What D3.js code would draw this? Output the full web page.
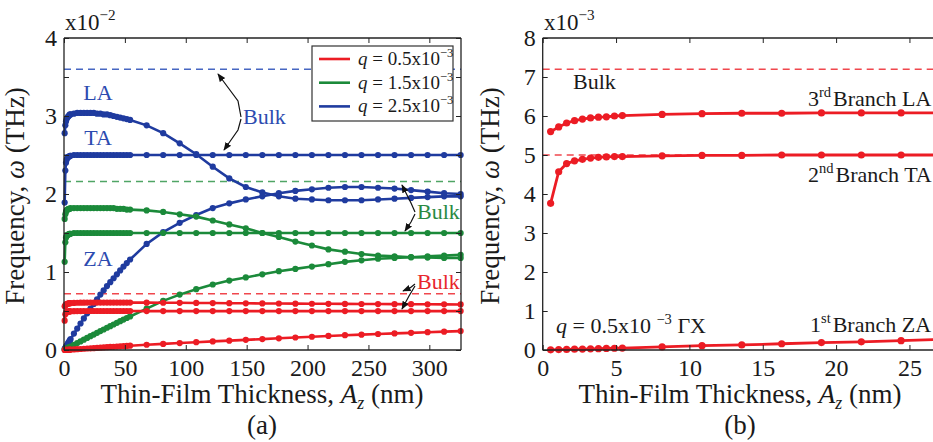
<!DOCTYPE html>
<html>
<head>
<meta charset="utf-8">
<script src="https://cdn.jsdelivr.net/npm/d3@7"></script>
<style>
  body { margin: 0; background: #fff; }
  svg text { font-family: "Liberation Serif", "Times New Roman", serif; fill: #1a1a1a; }
</style>
</head>
<body>
<svg id="chart" width="933" height="442"></svg>
<script>
// thin-film thickness A_z (nm) of every computed point
const thickness = [0.54, 1.09, 1.63, 2.17, 2.71, 3.26, 3.80, 4.34, 4.89, 5.43,
  8.14, 10.86, 13.57, 16.29, 19.00, 21.72, 24.43, 27.14, 29.86, 32.57, 35.29, 38.00,
  40.71, 43.43, 46.14, 48.86, 51.57, 54.29,
  67.86, 81.43, 95.00, 108.57, 122.14, 135.71, 149.29, 162.86, 176.43, 190.00,
  203.57, 217.14, 230.71, 244.29, 257.86, 271.43, 285.00, 298.57, 312.14, 325.71]

// q = 2.5e-3, frequency in 1e-2 THz
const blueLA = [2.78, 2.88, 2.93, 2.96, 2.98, 2.99, 3.00, 3.01, 3.02, 3.02,
  3.03, 3.04, 3.04, 3.04, 3.04, 3.04, 3.04, 3.03, 3.03, 3.02, 3.02, 3.01, 3.00, 2.99, 2.98, 2.97, 2.96, 2.95,
  2.88, 2.78, 2.65, 2.51, 2.35, 2.20, 2.09, 2.02, 1.97, 1.94, 1.93, 1.92, 1.92, 1.92, 1.93, 1.94, 1.95, 1.96, 1.97, 1.97]
const blueTA = [1.89, 2.30, 2.40, 2.44, 2.46, 2.47, 2.48, 2.48, 2.49, 2.49,
  2.50, 2.50, 2.50, 2.50, 2.50, 2.50, 2.50, 2.50, 2.50, 2.50, 2.50, 2.50, 2.50, 2.50, 2.50, 2.50, 2.50, 2.50,
  2.50, 2.50, 2.50, 2.50, 2.50, 2.50, 2.50, 2.50, 2.50, 2.50, 2.50, 2.50, 2.50, 2.50, 2.50, 2.50, 2.50, 2.50, 2.50, 2.50]
const blueZA = [0.014, 0.028, 0.042, 0.056, 0.070, 0.084, 0.098, 0.112, 0.126, 0.140,
  0.21, 0.275, 0.34, 0.405, 0.47, 0.53, 0.59, 0.65, 0.71, 0.765, 0.82, 0.87, 0.92, 0.97, 1.02, 1.07, 1.115, 1.16,
  1.36, 1.51, 1.63, 1.73, 1.82, 1.88, 1.93, 1.97, 2.01, 2.04, 2.06, 2.08, 2.09, 2.09, 2.08, 2.07, 2.05, 2.03, 2.01, 2.00]

// q = 1.5e-3, frequency in 1e-2 THz
const greenLA = [1.68, 1.74, 1.77, 1.79, 1.80, 1.80, 1.81, 1.81, 1.81, 1.82,
  1.82, 1.82, 1.82, 1.82, 1.82, 1.82, 1.82, 1.82, 1.82, 1.82, 1.82, 1.82, 1.82, 1.81, 1.81, 1.81, 1.80, 1.80,
  1.79, 1.77, 1.74, 1.71, 1.66, 1.61, 1.56, 1.50, 1.45, 1.39, 1.34, 1.29, 1.26, 1.23, 1.21, 1.20, 1.19, 1.185, 1.18, 1.18]
const greenTA = [1.13, 1.38, 1.44, 1.46, 1.47, 1.48, 1.48, 1.49, 1.49, 1.49,
  1.50, 1.50, 1.50, 1.50, 1.50, 1.50, 1.50, 1.50, 1.50, 1.50, 1.50, 1.50, 1.50, 1.50, 1.50, 1.50, 1.50, 1.50,
  1.50, 1.50, 1.50, 1.50, 1.50, 1.50, 1.50, 1.50, 1.50, 1.50, 1.50, 1.50, 1.50, 1.50, 1.50, 1.50, 1.50, 1.50, 1.50, 1.50]
const greenZA = [0.0045, 0.009, 0.013, 0.018, 0.022, 0.027, 0.031, 0.036, 0.040, 0.045,
  0.067, 0.089, 0.11, 0.133, 0.155, 0.177, 0.198, 0.22, 0.242, 0.263, 0.285, 0.306, 0.327, 0.348, 0.369, 0.39, 0.41, 0.43,
  0.53, 0.63, 0.71, 0.78, 0.84, 0.89, 0.93, 0.97, 1.01, 1.04, 1.07, 1.10, 1.13, 1.15, 1.17, 1.18, 1.19, 1.20, 1.21, 1.22]

// q = 0.5e-3, frequency in 1e-3 THz (panel b units)
const redLA = [5.60, 5.72, 5.82, 5.88, 5.92, 5.95, 5.97, 5.98, 6.00, 6.01,
  6.04, 6.06, 6.07, 6.07, 6.08, 6.08, 6.08, 6.08, 6.08, 6.08, 6.08, 6.08, 6.08, 6.08, 6.08, 6.08, 6.08, 6.08,
  6.07, 6.06, 6.05, 6.03, 6.02, 6.00, 5.99, 5.97, 5.96, 5.94, 5.93, 5.92, 5.91, 5.90, 5.89, 5.88, 5.87, 5.86, 5.85, 5.84]
const redTA = [3.76, 4.57, 4.78, 4.85, 4.89, 4.92, 4.94, 4.95, 4.96, 4.96,
  4.98, 4.99, 4.99, 5.00, 5.00, 5.00, 5.00, 5.00, 5.00, 5.00, 5.00, 5.00, 5.00, 5.00, 5.00, 5.00, 5.00, 5.00,
  4.99, 4.99, 4.99, 4.99, 4.99, 4.99, 4.99, 4.99, 4.99, 4.99, 4.99, 4.99, 4.99, 4.99, 4.99, 4.99, 4.99, 4.99, 4.99, 4.99]
const redZA = [0.005, 0.010, 0.015, 0.020, 0.025, 0.030, 0.035, 0.040, 0.045, 0.050,
  0.08, 0.11, 0.13, 0.16, 0.19, 0.21, 0.24, 0.27, 0.30, 0.33, 0.36, 0.39, 0.41, 0.44, 0.47, 0.50, 0.52, 0.55,
  0.67, 0.78, 0.89, 1.00, 1.10, 1.20, 1.30, 1.40, 1.50, 1.60, 1.70, 1.80, 1.90, 1.97, 2.05, 2.13, 2.20, 2.28, 2.35, 2.42]

// bulk frequencies [LA, TA]
const bulkBlue = [3.60, 2.50]    // 1e-2 THz
const bulkGreen = [2.16, 1.50]   // 1e-2 THz
const bulkRed = [7.20, 5.00]     // 1e-3 THz

const xTicksA = [0, 50, 100, 150, 200, 250, 300]
const yTicksA = [0, 0.5, 1, 1.5, 2, 2.5, 3, 3.5, 4]
const xTicksB = [0, 5, 10, 15, 20, 25]
const yTicksB = [0, 1, 2, 3, 4, 5, 6, 7, 8]

const RED = '#ec1c24', GREEN = '#1b8a3a', BLUE = '#1f3b9f'
const RED_D = '#f0474d', GREEN_D = '#4fa565', BLUE_D = '#4767c2'
const RED_T = '#e8262c', GREEN_T = '#2a8a42', BLUE_T = '#2c4bb0'

var svg = d3.select('#chart')
svg.append('rect').attr('width', 933).attr('height', 442).attr('fill', '#fff')

var defs = svg.append('defs')
defs.append('marker')
  .attr('id', 'arr').attr('viewBox', '0 0 10 10')
  .attr('refX', 9).attr('refY', 5)
  .attr('markerWidth', 7).attr('markerHeight', 7)
  .attr('orient', 'auto-start-reverse')
  .append('path').attr('d', 'M0,1 L10,5 L0,9 z').attr('fill', '#111')

// text with italic / sup / sub pieces
function rich(parent, x, y, size, parts, opt) {
  opt = opt || {}
  var t = parent.append('text').attr('x', x).attr('y', y).attr('font-size', size)
  if (opt.anchor) t.attr('text-anchor', opt.anchor)
  if (opt.fill) t.style('fill', opt.fill)
  if (opt.transform) t.attr('transform', opt.transform)
  var shift = 0
  parts.forEach(function (p) {
    var s = t.append('tspan').text(p.t)
    var target = p.sup ? -size * 0.42 : (p.sub ? size * 0.22 : 0)
    if (target - shift != 0) s.attr('dy', target - shift)
    shift = target
    if (p.sup || p.sub) s.attr('font-size', size * 0.66)
    if (p.it) s.style('font-style', 'italic')
    if (p.dx) s.attr('dx', p.dx)
  })
  return t
}

function drawAxes(g, x, y, cfg) {
  var top = y.range()[1], bottom = y.range()[0]
  var left = x.range()[0], right = x.range()[1]

  var bx = g.append('g').attr('transform', 'translate(0,' + bottom + ')')
    .call(d3.axisBottom(x).tickValues(cfg.xTicks).tickSizeInner(-5).tickSizeOuter(0).tickPadding(9))
  var tx = g.append('g').attr('transform', 'translate(0,' + top + ')')
    .call(d3.axisTop(x).tickValues(cfg.xTicks).tickSizeInner(-5).tickSizeOuter(0).tickFormat(''))
  var ly = g.append('g').attr('transform', 'translate(' + left + ',0)')
    .call(d3.axisLeft(y).tickValues(cfg.yTicks).tickSizeInner(-5).tickSizeOuter(0).tickPadding(7)
      .tickFormat(function (d) { return Number.isInteger(d) ? d : '' }))
  var axes = [bx, tx, ly]
  if (cfg.rightAxis) {
    axes.push(g.append('g').attr('transform', 'translate(' + right + ',0)')
      .call(d3.axisRight(y).tickValues(cfg.yTicks).tickSizeInner(-5).tickSizeOuter(0).tickFormat('')))
  }
  axes.forEach(function (a) {
    a.select('.domain').remove()
    a.selectAll('line').attr('stroke', '#222').attr('stroke-width', 1)
    a.selectAll('text').attr('font-size', 24).style('font-family', '"Liberation Serif", serif').attr('fill', '#1a1a1a')
  })

  // frame
  g.append('line').attr('x1', left).attr('x2', left).attr('y1', top).attr('y2', bottom).attr('stroke', '#222').attr('stroke-width', 1.3)
  g.append('line').attr('x1', left).attr('x2', right).attr('y1', bottom).attr('y2', bottom).attr('stroke', '#222').attr('stroke-width', 1.3)
  g.append('line').attr('x1', left).attr('x2', right).attr('y1', top).attr('y2', top).attr('stroke', '#222').attr('stroke-width', 1.3)
  if (cfg.rightAxis)
    g.append('line').attr('x1', right).attr('x2', right).attr('y1', top).attr('y2', bottom).attr('stroke', '#222').attr('stroke-width', 1.3)
}

function drawBulk(g, x, y, vals, color) {
  vals.forEach(function (v) {
    g.append('line')
      .attr('x1', x.range()[0]).attr('x2', x.range()[1])
      .attr('y1', y(v)).attr('y2', y(v))
      .attr('stroke', color).attr('stroke-width', 1.5)
      .attr('stroke-dasharray', '7,5')
  })
}

function drawSeries(g, x, y, xs, ys, color, r, w) {
  var data = xs.map(function (d, i) { return [d, ys[i]] })
  var line = d3.line().x(function (d) { return x(d[0]) }).y(function (d) { return y(d[1]) })
  g.append('path').datum(data).attr('d', line)
    .attr('fill', 'none').attr('stroke', color).attr('stroke-width', w)
  g.selectAll(null).data(data).enter().append('circle')
    .attr('cx', function (d) { return x(d[0]) })
    .attr('cy', function (d) { return y(d[1]) })
    .attr('r', r).attr('fill', color)
}

function arrow(g, pts) {
  g.append('path')
    .attr('d', d3.line()(pts))
    .attr('fill', 'none').attr('stroke', '#111').attr('stroke-width', 1.2)
    .attr('marker-end', 'url(#arr)')
}

// ---------------- panel (a)
var xA = d3.scaleLinear().domain([0, 326]).range([64, 461])
var yA = d3.scaleLinear().domain([0, 4]).range([350, 38])
var gA = svg.append('g')

drawBulk(gA, xA, yA, bulkBlue, BLUE_D)
drawBulk(gA, xA, yA, bulkGreen, GREEN_D)
drawBulk(gA, xA, yA, bulkRed.map(function (v) { return v / 10 }), RED_D)

var rA = 3.1, wA = 2.6
drawSeries(gA, xA, yA, thickness, blueLA, BLUE, rA, wA)
drawSeries(gA, xA, yA, thickness, blueTA, BLUE, rA, wA)
drawSeries(gA, xA, yA, thickness, blueZA, BLUE, rA, wA)
drawSeries(gA, xA, yA, thickness, greenLA, GREEN, rA, wA)
drawSeries(gA, xA, yA, thickness, greenTA, GREEN, rA, wA)
drawSeries(gA, xA, yA, thickness, greenZA, GREEN, rA, wA)
drawSeries(gA, xA, yA, thickness, redLA.map(function (v) { return v / 10 }), RED, rA, wA)
drawSeries(gA, xA, yA, thickness, redTA.map(function (v) { return v / 10 }), RED, rA, wA)
drawSeries(gA, xA, yA, thickness, redZA.map(function (v) { return v / 10 }), RED, rA, wA)

drawAxes(gA, xA, yA, { xTicks: xTicksA, yTicks: yTicksA, rightAxis: true })

rich(gA, 65, 30, 23, [{ t: 'x10' }, { t: '\u22122', sup: true }])
rich(gA, 24, 196, 27, [{ t: 'Frequency, ' }, { t: '\u03c9', it: true }, { t: ' (THz)' }],
  { anchor: 'middle', transform: 'rotate(-90,24,196)' })
rich(gA, 262, 403, 27, [{ t: 'Thin-Film Thickness, ' }, { t: 'A', it: true }, { t: 'z', it: true, sub: true }, { t: ' (nm)' }], { anchor: 'middle' })
rich(gA, 262, 434, 27, [{ t: '(a)' }], { anchor: 'middle' })

rich(gA, 98, 100, 22, [{ t: 'LA' }], { anchor: 'middle', fill: BLUE_T })
rich(gA, 98, 145, 22, [{ t: 'TA' }], { anchor: 'middle', fill: BLUE_T })
rich(gA, 98, 266, 22, [{ t: 'ZA' }], { anchor: 'middle', fill: BLUE_T })
rich(gA, 243, 124, 22, [{ t: 'Bulk' }], { fill: BLUE_T })
rich(gA, 417, 219, 22, [{ t: 'Bulk' }], { fill: GREEN_T })
rich(gA, 417, 289, 22, [{ t: 'Bulk' }], { fill: RED_T })

arrow(gA, [[241, 117], [238, 101], [218, 74]])
arrow(gA, [[241, 119], [238, 130], [224, 150]])
arrow(gA, [[415, 212], [411, 203], [402, 185]])
arrow(gA, [[415, 214], [411, 222], [405, 231]])
arrow(gA, [[415, 284], [410, 288], [403, 291]])
arrow(gA, [[415, 286], [409, 296], [402, 309]])

// legend
var leg = gA.append('g')
leg.append('rect').attr('x', 312).attr('y', 46).attr('width', 141).attr('height', 75)
  .attr('fill', '#fff').attr('stroke', '#333').attr('stroke-width', 1.2)
var legendColors = [RED, GREEN, BLUE]
var legendQ = ['0.5', '1.5', '2.5']
legendQ.forEach(function (q, i) {
  var yy = 59 + i * 23.7
  leg.append('line').attr('x1', 319).attr('x2', 350).attr('y1', yy).attr('y2', yy)
    .attr('stroke', legendColors[i]).attr('stroke-width', 2.6)
  rich(leg, 358, yy + 6, 19, [{ t: 'q', it: true }, { t: ' = ' + q + 'x10' }, { t: '\u22123', sup: true }])
})

// ---------------- panel (b)
var xB = d3.scaleLinear().domain([0, 27.4]).range([542.7, 542.7 + 27.4 * 14.67])
var yB = d3.scaleLinear().domain([0, 8]).range([350, 38])
var gB = svg.append('g')

drawBulk(gB, xB, yB, bulkRed, RED_D)
var nB = 18
drawSeries(gB, xB, yB, thickness.slice(0, nB), redLA.slice(0, nB), RED, 3.6, 2.8)
drawSeries(gB, xB, yB, thickness.slice(0, nB), redTA.slice(0, nB), RED, 3.6, 2.8)
drawSeries(gB, xB, yB, thickness.slice(0, nB), redZA.slice(0, nB), RED, 3.6, 2.8)

drawAxes(gB, xB, yB, { xTicks: xTicksB, yTicks: yTicksB, rightAxis: false })

rich(gB, 544, 30, 23, [{ t: 'x10' }, { t: '\u22123', sup: true }])
rich(gB, 499, 196, 27, [{ t: 'Frequency, ' }, { t: '\u03c9', it: true }, { t: ' (THz)' }],
  { anchor: 'middle', transform: 'rotate(-90,499,196)' })
rich(gB, 740, 403, 27, [{ t: 'Thin-Film Thickness, ' }, { t: 'A', it: true }, { t: 'z', it: true, sub: true }, { t: ' (nm)' }], { anchor: 'middle' })
rich(gB, 740, 434, 27, [{ t: '(b)' }], { anchor: 'middle' })

rich(gB, 573, 89, 22, [{ t: 'Bulk' }])
rich(gB, 808, 106, 22, [{ t: '3' }, { t: 'rd', sup: true }, { t: 'Branch LA', dx: 2 }])
rich(gB, 808, 182, 22, [{ t: '2' }, { t: 'nd', sup: true }, { t: 'Branch TA', dx: 2 }])
rich(gB, 810, 332, 22, [{ t: '1' }, { t: 'st', sup: true }, { t: 'Branch ZA', dx: 2 }])
rich(gB, 556, 333, 22, [{ t: 'q', it: true }, { t: ' = 0.5x10 ' }, { t: '\u22123', sup: true }, { t: ' \u0393X' }])
</script>
</body>
</html>
